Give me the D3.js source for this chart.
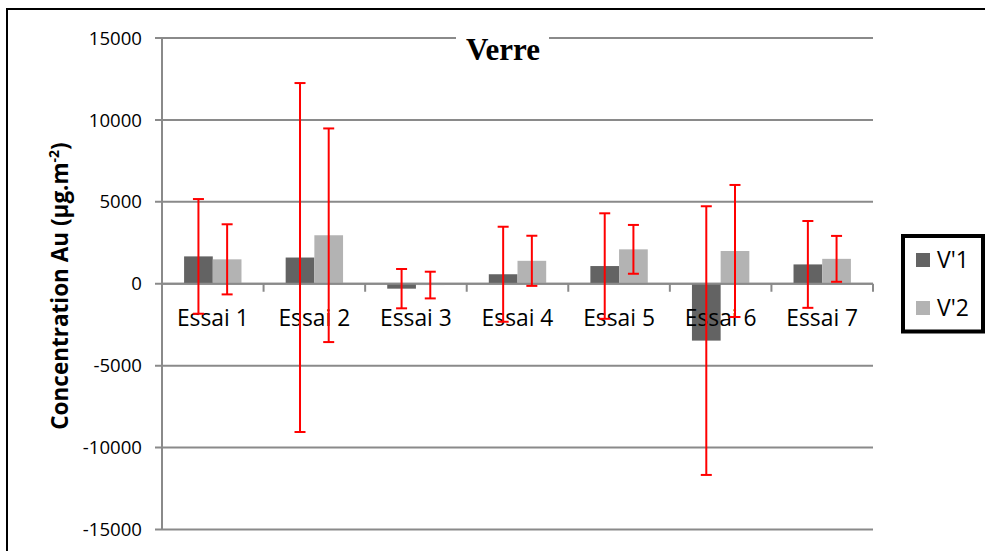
<!DOCTYPE html>
<html><head><meta charset="utf-8">
<script src="https://cdn.jsdelivr.net/npm/d3@7"></script>
<style>body{margin:0;background:#fff}svg{display:block}</style>
</head><body>
<svg id="c" width="985" height="551"></svg>
<script>
const categories = ["Essai 1","Essai 2","Essai 3","Essai 4","Essai 5","Essai 6","Essai 7"];
const seriesNames = ["V'1","V'2"];
const v1 = [1670, 1600, -300, 580, 1080, -3470, 1180];
const v2 = [1490, 2960, -80, 1400, 2100, 2000, 1520];
const err1 = [3500, 10650, 1200, 2900, 3220, 8200, 2650];
const err2 = [2140, 6520, 815, 1530, 1490, 4030, 1400];
const yTicks = [-15000, -10000, -5000, 0, 5000, 10000, 15000];
const title = "Verre";
const yLabel = "Concentration Au (µg.m";

const colors = {"V'1": "#636363", "V'2": "#b3b3b3"};
const grid = "#8a8a8a";
const svg = d3.select("#c");

// outer border
svg.append("rect").attr("x",7).attr("y",9).attr("width",1100).attr("height",700)
  .attr("fill","none").attr("stroke","#000").attr("stroke-width",2);

const L = 162, R = 873, T = 38, B = 529.5;
const y = d3.scaleLinear().domain([-15000,15000]).range([B,T]);
const x = d3.scaleBand().domain(categories).range([L,R]).padding(0);
const bw = x.bandwidth();
const grp = bw*0.565;
const xs = d3.scaleBand().domain(seriesNames).range([(bw-grp)/2,(bw+grp)/2]).padding(0);

// gridlines
svg.append("g").selectAll("line").data(yTicks).join("line")
  .attr("x1",155).attr("x2",R).attr("y1",d=>y(d)).attr("y2",d=>y(d))
  .attr("stroke",grid).attr("stroke-width",2);
// y axis line
svg.append("line").attr("x1",L).attr("x2",L).attr("y1",T).attr("y2",B)
  .attr("stroke",grid).attr("stroke-width",2);

// tick labels
svg.append("g").selectAll("text").data(yTicks).join("text")
  .attr("x",142).attr("y",d=>y(d)+6.6).attr("text-anchor","end")
  .attr("font-family","Open Sans").attr("font-size",18.6).attr("fill","#000")
  .text(d=>d);

// bars
const rows = categories.map((c,i)=>({c, vals:[{s:"V'1",v:v1[i],e:err1[i]},{s:"V'2",v:v2[i],e:err2[i]}]}));
const g = svg.append("g");
rows.forEach(r=>{
  r.vals.forEach(d=>{
    g.append("rect")
      .attr("x", x(r.c)+xs(d.s)).attr("width", xs.bandwidth())
      .attr("y", y(Math.max(0,d.v))).attr("height", Math.abs(y(d.v)-y(0)))
      .attr("fill", colors[d.s]);
  });
});

// x axis (zero line) and ticks
svg.append("line").attr("x1",L).attr("x2",R).attr("y1",y(0)).attr("y2",y(0))
  .attr("stroke",grid).attr("stroke-width",2);
svg.append("g").selectAll("line").data(categories).join("line")
  .attr("x1",d=>x(d)+bw).attr("x2",d=>x(d)+bw).attr("y1",y(0)).attr("y2",y(0)+8)
  .attr("stroke",grid).attr("stroke-width",2);

// category labels
svg.append("g").selectAll("text").data(categories).join("text")
  .attr("x",d=>x(d)+bw/2).attr("y",326).attr("text-anchor","middle")
  .attr("font-family","Open Sans").attr("font-size",22.8).attr("fill","#000")
  .text(d=>d);

// error bars
const eg = svg.append("g").attr("stroke","#ff0000").attr("stroke-width",2);
rows.forEach(r=>{
  r.vals.forEach(d=>{
    const cx = x(r.c)+xs(d.s)+xs.bandwidth()/2;
    const y1 = y(d.v+d.e), y2 = y(d.v-d.e);
    eg.append("line").attr("x1",cx).attr("x2",cx).attr("y1",y1).attr("y2",y2);
    eg.append("line").attr("x1",cx-5.5).attr("x2",cx+5.5).attr("y1",y1).attr("y2",y1);
    eg.append("line").attr("x1",cx-5.5).attr("x2",cx+5.5).attr("y1",y2).attr("y2",y2);
  });
});

// title
svg.append("rect").attr("x",456).attr("y",28).attr("width",93).attr("height",30).attr("fill","#fff");
svg.append("text").attr("x",503).attr("y",60).attr("text-anchor","middle")
  .attr("font-family","Liberation Serif").attr("font-weight","bold").attr("font-size",31)
  .text(title);

// y label
const yl = svg.append("text").attr("transform","translate(68,286) rotate(-90)")
  .attr("text-anchor","middle").attr("font-family","Open Sans").attr("font-weight","bold")
  .attr("font-size",22.5).attr("fill","#000");
yl.append("tspan").text(yLabel);
yl.append("tspan").attr("font-size",14).attr("dy",-9).text("-2");
yl.append("tspan").attr("dy",9).text(")");

// legend
svg.append("rect").attr("x",903).attr("y",236).attr("width",80).attr("height",95.5)
  .attr("fill","#fff").attr("stroke","#000").attr("stroke-width",4);
seriesNames.forEach((s,i)=>{
  svg.append("rect").attr("x",916).attr("y",253+i*48).attr("width",14).attr("height",14).attr("fill",colors[s]);
  svg.append("text").attr("x",937).attr("y",268+i*48).attr("font-family","Open Sans")
    .attr("font-size",23).attr("fill","#000").text(s);
});
</script>
</body></html>
